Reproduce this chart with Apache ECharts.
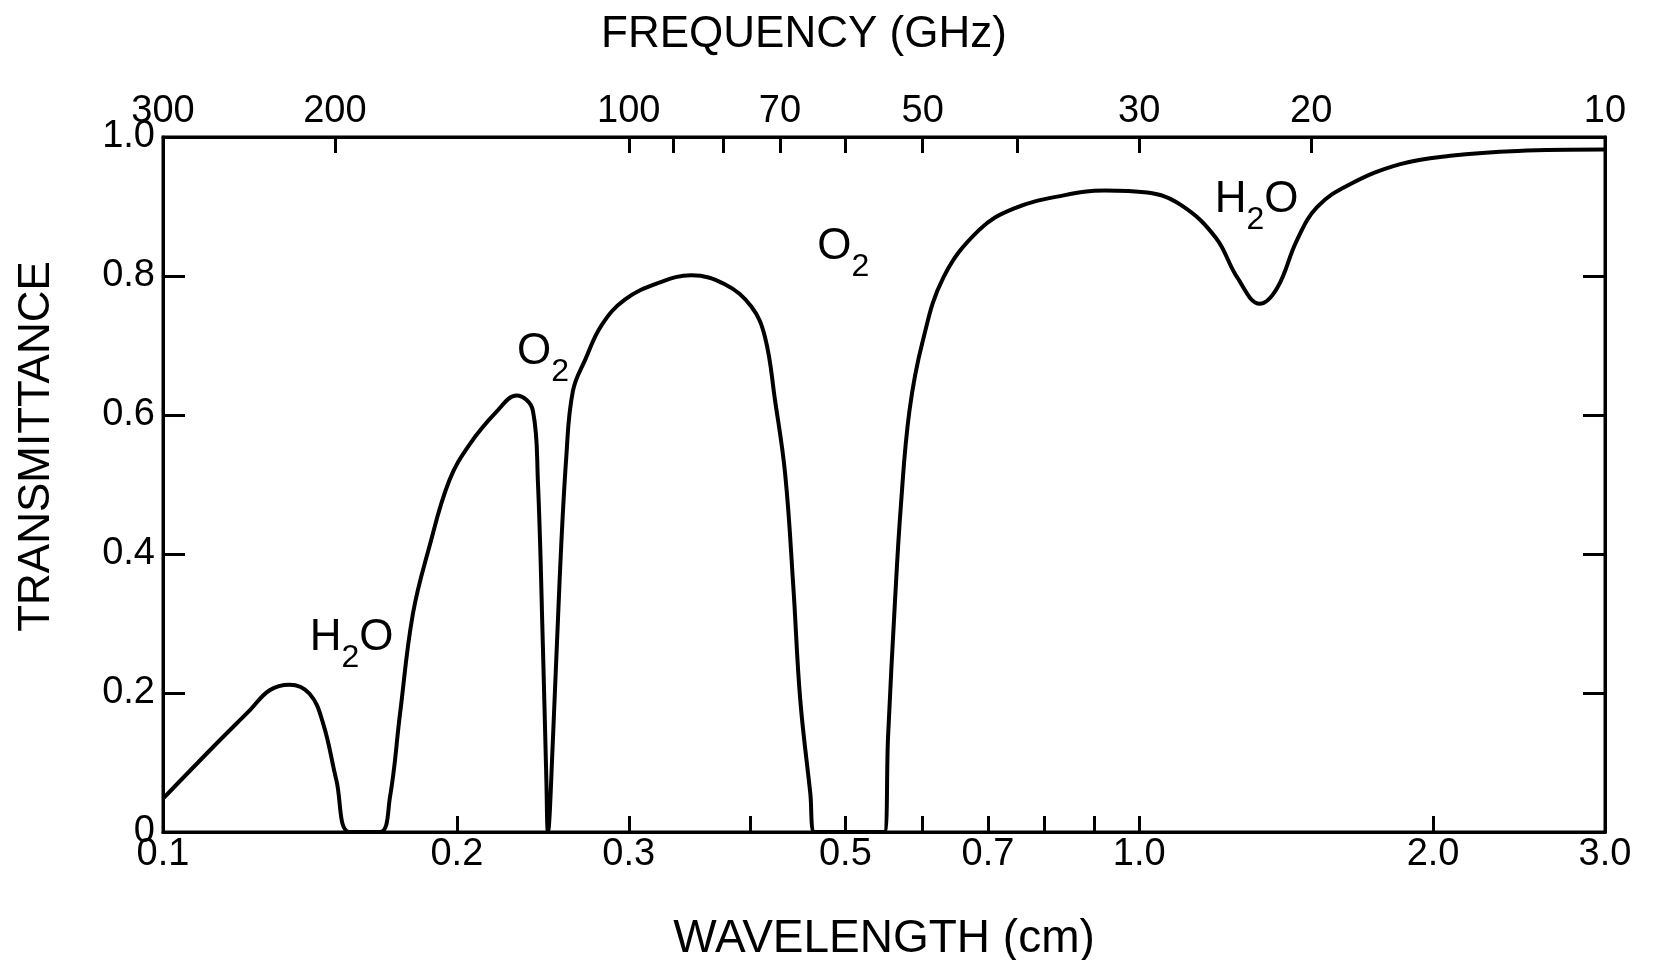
<!DOCTYPE html>
<html>
<head>
<meta charset="utf-8">
<script src="https://cdn.jsdelivr.net/npm/echarts@6/dist/echarts.min.js"></script>
<style>
    html, body { margin: 0; background: #fff; }
    #chart { width: 1653px; height: 960px; }
</style>
</head>
<body>
<div id="chart"></div>
<script>
    // curve: wavelength (cm) -> transmittance
    const wavelength = [
        0.100, 0.1134, 0.1227, 0.1286, 0.1348, 0.1413, 0.1459, 0.1505, 0.1553,
        0.1668, 0.1708, 0.1749, 0.1803, 0.1874, 0.1965, 0.2062, 0.2194, 0.2302,
        0.2393, 0.2421, 0.2450, 0.2470, 0.2479,
        0.2508, 0.2548, 0.2589, 0.2630, 0.2708, 0.2813, 0.2972, 0.3216, 0.3477,
        0.3763, 0.4005, 0.4137, 0.4236, 0.4339, 0.4423, 0.4495, 0.4603, 0.4650,
        0.5480, 0.5530, 0.5620, 0.5700, 0.5816, 0.5998, 0.6302, 0.6852, 0.7437,
        0.8367, 0.9222, 1.019, 1.104, 1.198, 1.260, 1.329, 1.385, 1.450, 1.521,
        1.644, 1.851, 2.083, 2.443, 3.0
    ];
    const transmittance = [
        0.048, 0.127, 0.175, 0.204, 0.212, 0.199, 0.156, 0.075, 0.0,
        0.0, 0.05, 0.17, 0.314, 0.41, 0.506, 0.558, 0.604, 0.628,
        0.606, 0.506, 0.266, 0.075, 0.0,
        0.13, 0.36, 0.54, 0.635, 0.68, 0.729, 0.766, 0.790, 0.801,
        0.788, 0.756, 0.712, 0.621, 0.514, 0.352, 0.191, 0.056, 0.0,
        0.0, 0.137, 0.33, 0.47, 0.606, 0.705, 0.798, 0.866, 0.897,
        0.916, 0.923, 0.920, 0.902, 0.855, 0.798, 0.760, 0.783, 0.851, 0.899,
        0.932, 0.961, 0.973, 0.980, 0.982
    ];

    const wavelengthTicks = [0.2, 0.3, 0.4, 0.5, 0.6, 0.7, 0.8, 0.9, 1.0, 2.0];
    const wavelengthLabels = [0.1, 0.2, 0.3, 0.5, 0.7, 1.0, 2.0, 3.0];
    const frequencyTicks = [200, 100, 90, 80, 70, 60, 50, 40, 30, 20];
    const frequencyLabels = [300, 200, 100, 70, 50, 30, 20, 10];

    const gasNames = ['H2O', 'O2', 'O2', 'H2O'];
    const gasWavelength = [0.156, 0.245, 0.4975, 1.319];
    const gasTransmittance = [0.269, 0.681, 0.832, 0.899];

    // f (GHz) = 30 / wavelength (cm)
    const toWavelength = (f) => 30 / f;
    const font = 'Liberation Sans';

    const chart = echarts.init(document.getElementById('chart'));

    const axisLine = { onZero: false, lineStyle: { color: '#000', width: 3 } };
    const tickStyle = { color: '#000', width: 3 };
    const labelStyle = { color: '#000', fontFamily: font, fontSize: 38 };
    const nameStyle = { color: '#000', fontFamily: font, fontSize: 44 };

    chart.setOption({
        animation: false,
        backgroundColor: '#fff',
        grid: {
            left: 163,
            right: 48,
            top: 137,
            bottom: 128,
            outerBoundsMode: 'none',
            show: true,
            borderColor: '#000',
            borderWidth: 3,
        },
        xAxis: [
            {
                type: 'log',
                logBase: 10,
                min: 0.1,
                max: 3,
                position: 'bottom',
                axisLine: axisLine,
                axisTick: {
                    inside: true,
                    length: 16,
                    lineStyle: tickStyle,
                    customValues: wavelengthTicks,
                },
                axisLabel: Object.assign({}, labelStyle, {
                    margin: 4,
                    customValues: wavelengthLabels,
                    formatter: (v) => v.toFixed(1),
                }),
                splitLine: { show: false },
                minorTick: { show: false },
                name: 'WAVELENGTH (cm)',
                nameLocation: 'middle',
                nameGap: 84,
                nameTextStyle: Object.assign({}, nameStyle, { fontSize: 46 }),
            },
            {
                type: 'log',
                logBase: 10,
                min: 0.1,
                max: 3,
                position: 'top',
                axisLine: axisLine,
                axisTick: {
                    inside: true,
                    length: 16,
                    lineStyle: tickStyle,
                    customValues: frequencyTicks.map(toWavelength),
                },
                axisLabel: Object.assign({}, labelStyle, {
                    margin: 6,
                    customValues: frequencyLabels.map(toWavelength),
                    formatter: (v) => String(Math.round(30 / v)),
                }),
                splitLine: { show: false },
                minorTick: { show: false },
                name: 'FREQUENCY (GHz)',
                nameLocation: 'middle',
                nameGap: 80,
                nameTextStyle: Object.assign({}, nameStyle, { padding: [0, 160, 0, 0] }),
            },
        ],
        yAxis: [
            {
                type: 'value',
                min: 0,
                max: 1,
                interval: 0.2,
                position: 'left',
                axisLine: axisLine,
                axisTick: { inside: true, length: 22, lineStyle: tickStyle },
                axisLabel: Object.assign({}, labelStyle, {
                    margin: 8,
                    formatter: (v) => (v === 0 ? '0' : v.toFixed(1)),
                }),
                splitLine: { show: false },
                name: 'TRANSMITTANCE',
                nameLocation: 'middle',
                nameGap: 104,
                nameTextStyle: Object.assign({}, nameStyle, { padding: [0, 0, 0, 76] }),
            },
            {
                type: 'value',
                min: 0,
                max: 1,
                interval: 0.2,
                position: 'right',
                axisLine: axisLine,
                axisTick: { inside: true, length: 22, lineStyle: tickStyle },
                axisLabel: { show: false },
                splitLine: { show: false },
            },
        ],
        series: [
            {
                type: 'line',
                xAxisIndex: 0,
                yAxisIndex: 0,
                data: wavelength.map((w, i) => [w, transmittance[i]]),
                showSymbol: false,
                smooth: 0.4,
                lineStyle: { color: '#000', width: 4 },
            },
            {
                type: 'scatter',
                xAxisIndex: 0,
                yAxisIndex: 0,
                symbolSize: 0,
                itemStyle: { color: '#000', opacity: 1 },
                data: gasNames.map((n, i) => ({ value: [gasWavelength[i], gasTransmittance[i]], name: n })),
                label: {
                    show: true,
                    position: 'inside',
                    color: '#000',
                    formatter: (p) => p.name.replace(/([A-Z]+)(\d)(.*)/, '{m|$1}{s|$2}{m|$3}'),
                    rich: {
                        m: { fontFamily: font, fontSize: 44, color: '#000', padding: [0, 0, 14, 0], verticalAlign: 'bottom' },
                        s: { fontFamily: font, fontSize: 32, color: '#000', verticalAlign: 'bottom' },
                    },
                },
            },
        ],
    });
</script>
</body>
</html>
